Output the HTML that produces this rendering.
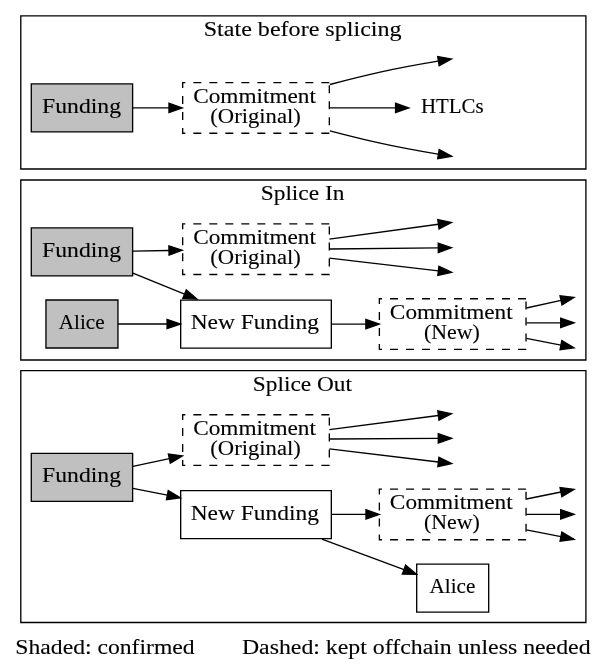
<!DOCTYPE html>
<html><head><meta charset="utf-8"><style>
html,body{margin:0;padding:0;background:#fff;width:607px;height:669px;overflow:hidden}
svg{display:block;will-change:transform}
text{font-family:"Liberation Serif", serif;text-anchor:middle;fill:#000;white-space:pre}
</style></head><body>
<svg width="607" height="669" viewBox="0 0 607 669">
<rect x="0" y="0" width="607" height="669" fill="#fff"/>
<path d="M585.90,15.80L20.80,15.80L20.80,169.00L585.90,169.00Z" fill="none" stroke="#000" stroke-width="1.3333"/>
<path d="M585.90,180.00L20.80,180.00L20.80,360.00L585.90,360.00Z" fill="none" stroke="#000" stroke-width="1.3333"/>
<path d="M585.90,370.70L20.80,370.70L20.80,622.50L585.90,622.50Z" fill="none" stroke="#000" stroke-width="1.3333"/>
<path d="M132.62,83.90L31.29,83.90L31.29,131.90L132.62,131.90Z" fill="#c0c0c0" stroke="#000" stroke-width="1.3333"/>
<path d="M329.33,82.56L182.67,82.56L182.67,133.24L329.33,133.24Z" fill="none" stroke="#000" stroke-width="1.3333" stroke-dasharray="8,8"/>
<path d="M133.00,107.90L168.97,107.90" fill="none" stroke="#000" stroke-width="1.3333"/>
<polygon points="182.30,107.90 168.97,112.57 168.97,103.23" fill="#000" stroke="#000" stroke-width="1.3333"/>
<path d="M329.60,107.90L395.57,107.90" fill="none" stroke="#000" stroke-width="1.3333"/>
<polygon points="408.90,107.90 395.57,112.57 395.57,103.23" fill="#000" stroke="#000" stroke-width="1.3333"/>
<path d="M329.90,84.50C346.38,80.19 363.81,75.83 380.16,72.17C400.00,67.72 423.16,63.66 438.04,61.19" fill="none" stroke="#000" stroke-width="1.3333"/>
<polygon points="451.60,59.00 439.18,65.74 437.69,56.52" fill="#000" stroke="#000" stroke-width="1.3333"/>
<path d="M329.90,130.80C346.38,135.11 363.81,139.47 380.16,143.13C400.00,147.58 423.16,151.64 438.04,154.11" fill="none" stroke="#000" stroke-width="1.3333"/>
<polygon points="451.60,156.30 437.69,158.78 439.18,149.56" fill="#000" stroke="#000" stroke-width="1.3333"/>
<path d="M132.62,227.90L31.29,227.90L31.29,275.90L132.62,275.90Z" fill="#c0c0c0" stroke="#000" stroke-width="1.3333"/>
<path d="M117.95,300.00L45.95,300.00L45.95,348.00L117.95,348.00Z" fill="#c0c0c0" stroke="#000" stroke-width="1.3333"/>
<path d="M329.33,223.86L182.67,223.86L182.67,274.53L329.33,274.53Z" fill="none" stroke="#000" stroke-width="1.3333" stroke-dasharray="8,8"/>
<path d="M331.33,300.10L180.67,300.10L180.67,348.10L331.33,348.10Z" fill="none" stroke="#000" stroke-width="1.3333"/>
<path d="M526.03,298.77L379.37,298.77L379.37,349.44L526.03,349.44Z" fill="none" stroke="#000" stroke-width="1.3333" stroke-dasharray="8,8"/>
<path d="M132.90,251.20L168.97,250.49" fill="none" stroke="#000" stroke-width="1.3333"/>
<polygon points="182.30,250.23 169.06,255.15 168.88,245.82" fill="#000" stroke="#000" stroke-width="1.3333"/>
<path d="M132.90,273.20L184.54,294.11" fill="none" stroke="#000" stroke-width="1.3333"/>
<polygon points="196.90,299.11 182.79,298.43 186.29,289.78" fill="#000" stroke="#000" stroke-width="1.3333"/>
<path d="M118.00,324.00L167.07,324.00" fill="none" stroke="#000" stroke-width="1.3333"/>
<polygon points="180.40,324.00 167.07,328.67 167.07,319.33" fill="#000" stroke="#000" stroke-width="1.3333"/>
<path d="M329.40,239.10L438.40,224.27" fill="none" stroke="#000" stroke-width="1.3333"/>
<polygon points="451.61,222.48 439.03,228.90 437.77,219.65" fill="#000" stroke="#000" stroke-width="1.3333"/>
<path d="M329.40,249.00L438.27,247.85" fill="none" stroke="#000" stroke-width="1.3333"/>
<polygon points="451.60,247.71 438.32,252.52 438.22,243.19" fill="#000" stroke="#000" stroke-width="1.3333"/>
<path d="M329.40,258.10L438.37,270.81" fill="none" stroke="#000" stroke-width="1.3333"/>
<polygon points="451.61,272.35 437.82,275.44 438.91,266.17" fill="#000" stroke="#000" stroke-width="1.3333"/>
<path d="M331.30,324.10L365.87,324.10" fill="none" stroke="#000" stroke-width="1.3333"/>
<polygon points="379.20,324.10 365.87,328.77 365.87,319.43" fill="#000" stroke="#000" stroke-width="1.3333"/>
<path d="M526.40,308.00L561.01,300.36" fill="none" stroke="#000" stroke-width="1.3333"/>
<polygon points="574.03,297.48 562.02,304.91 560.00,295.80" fill="#000" stroke="#000" stroke-width="1.3333"/>
<path d="M526.40,322.80L560.67,322.80" fill="none" stroke="#000" stroke-width="1.3333"/>
<polygon points="574.00,322.80 560.67,327.47 560.67,318.13" fill="#000" stroke="#000" stroke-width="1.3333"/>
<path d="M526.40,338.40L560.94,345.18" fill="none" stroke="#000" stroke-width="1.3333"/>
<polygon points="574.02,347.75 560.04,349.76 561.84,340.60" fill="#000" stroke="#000" stroke-width="1.3333"/>
<path d="M132.62,453.30L31.29,453.30L31.29,501.30L132.62,501.30Z" fill="#c0c0c0" stroke="#000" stroke-width="1.3333"/>
<path d="M329.33,414.77L182.67,414.77L182.67,465.44L329.33,465.44Z" fill="none" stroke="#000" stroke-width="1.3333" stroke-dasharray="8,8"/>
<path d="M331.33,490.60L180.67,490.60L180.67,538.60L331.33,538.60Z" fill="none" stroke="#000" stroke-width="1.3333"/>
<path d="M526.03,489.06L379.37,489.06L379.37,539.74L526.03,539.74Z" fill="none" stroke="#000" stroke-width="1.3333" stroke-dasharray="8,8"/>
<path d="M488.70,564.20L416.70,564.20L416.70,612.20L488.70,612.20Z" fill="none" stroke="#000" stroke-width="1.3333"/>
<path d="M132.90,466.40L169.34,458.61" fill="none" stroke="#000" stroke-width="1.3333"/>
<polygon points="182.38,455.82 170.32,463.17 168.36,454.05" fill="#000" stroke="#000" stroke-width="1.3333"/>
<path d="M132.90,488.40L167.34,495.18" fill="none" stroke="#000" stroke-width="1.3333"/>
<polygon points="180.42,497.75 166.44,499.75 168.24,490.60" fill="#000" stroke="#000" stroke-width="1.3333"/>
<path d="M329.40,429.65L438.39,415.49" fill="none" stroke="#000" stroke-width="1.3333"/>
<polygon points="451.61,413.77 438.99,420.11 437.79,410.86" fill="#000" stroke="#000" stroke-width="1.3333"/>
<path d="M329.40,439.00L438.27,438.38" fill="none" stroke="#000" stroke-width="1.3333"/>
<polygon points="451.60,438.31 438.29,443.05 438.24,433.72" fill="#000" stroke="#000" stroke-width="1.3333"/>
<path d="M329.40,448.90L438.37,462.00" fill="none" stroke="#000" stroke-width="1.3333"/>
<polygon points="451.61,463.59 437.81,466.64 438.93,457.37" fill="#000" stroke="#000" stroke-width="1.3333"/>
<path d="M331.30,514.40L365.97,514.40" fill="none" stroke="#000" stroke-width="1.3333"/>
<polygon points="379.30,514.40 365.97,519.07 365.97,509.73" fill="#000" stroke="#000" stroke-width="1.3333"/>
<path d="M321.90,539.10L403.98,569.60" fill="none" stroke="#000" stroke-width="1.3333"/>
<polygon points="416.48,574.25 402.36,573.98 405.61,565.23" fill="#000" stroke="#000" stroke-width="1.3333"/>
<path d="M526.40,499.00L560.96,492.00" fill="none" stroke="#000" stroke-width="1.3333"/>
<polygon points="574.03,489.36 561.88,496.58 560.03,487.43" fill="#000" stroke="#000" stroke-width="1.3333"/>
<path d="M526.40,514.30L560.67,514.30" fill="none" stroke="#000" stroke-width="1.3333"/>
<polygon points="574.00,514.30 560.67,518.97 560.67,509.63" fill="#000" stroke="#000" stroke-width="1.3333"/>
<path d="M526.40,529.90L560.94,536.68" fill="none" stroke="#000" stroke-width="1.3333"/>
<polygon points="574.02,539.25 560.04,541.26 561.84,532.10" fill="#000" stroke="#000" stroke-width="1.3333"/>
<text x="302.65" y="36.07" font-size="21.2" textLength="197.87" lengthAdjust="spacingAndGlyphs" stroke="#000" stroke-width="0.12">State before splicing</text>
<text x="302.55" y="200.27" font-size="21.2" textLength="83.66" lengthAdjust="spacingAndGlyphs" stroke="#000" stroke-width="0.12">Splice In</text>
<text x="302.45" y="390.97" font-size="21.2" textLength="99.13" lengthAdjust="spacingAndGlyphs" stroke="#000" stroke-width="0.12">Splice Out</text>
<text x="81.55" y="112.83" font-size="21.2" textLength="78.92" lengthAdjust="spacingAndGlyphs" stroke="#000" stroke-width="0.12">Funding</text>
<text x="254.57" y="102.83" font-size="21.2" textLength="122.81" lengthAdjust="spacingAndGlyphs" stroke="#000" stroke-width="0.12">Commitment</text>
<text x="255.55" y="122.83" font-size="21.2" textLength="90.43" lengthAdjust="spacingAndGlyphs" stroke="#000" stroke-width="0.12">(Original)</text>
<text x="452.30" y="112.83" font-size="21.2" textLength="62.61" lengthAdjust="spacingAndGlyphs" stroke="#000" stroke-width="0.12">HTLCs</text>
<text x="81.55" y="256.83" font-size="21.2" textLength="78.92" lengthAdjust="spacingAndGlyphs" stroke="#000" stroke-width="0.12">Funding</text>
<text x="81.70" y="328.93" font-size="21.2" textLength="45.85" lengthAdjust="spacingAndGlyphs" stroke="#000" stroke-width="0.12">Alice</text>
<text x="254.57" y="244.13" font-size="21.2" textLength="122.81" lengthAdjust="spacingAndGlyphs" stroke="#000" stroke-width="0.12">Commitment</text>
<text x="255.55" y="264.13" font-size="21.2" textLength="90.43" lengthAdjust="spacingAndGlyphs" stroke="#000" stroke-width="0.12">(Original)</text>
<text x="254.80" y="329.03" font-size="21.2" textLength="128.21" lengthAdjust="spacingAndGlyphs" stroke="#000" stroke-width="0.12">New Funding</text>
<text x="451.27" y="319.03" font-size="21.2" textLength="122.81" lengthAdjust="spacingAndGlyphs" stroke="#000" stroke-width="0.12">Commitment</text>
<text x="451.90" y="339.03" font-size="21.2" textLength="55.85" lengthAdjust="spacingAndGlyphs" stroke="#000" stroke-width="0.12">(New)</text>
<text x="81.55" y="482.23" font-size="21.2" textLength="78.92" lengthAdjust="spacingAndGlyphs" stroke="#000" stroke-width="0.12">Funding</text>
<text x="254.57" y="435.03" font-size="21.2" textLength="122.81" lengthAdjust="spacingAndGlyphs" stroke="#000" stroke-width="0.12">Commitment</text>
<text x="255.55" y="455.03" font-size="21.2" textLength="90.43" lengthAdjust="spacingAndGlyphs" stroke="#000" stroke-width="0.12">(Original)</text>
<text x="254.80" y="519.53" font-size="21.2" textLength="128.21" lengthAdjust="spacingAndGlyphs" stroke="#000" stroke-width="0.12">New Funding</text>
<text x="451.27" y="509.33" font-size="21.2" textLength="122.81" lengthAdjust="spacingAndGlyphs" stroke="#000" stroke-width="0.12">Commitment</text>
<text x="451.90" y="529.33" font-size="21.2" textLength="55.85" lengthAdjust="spacingAndGlyphs" stroke="#000" stroke-width="0.12">(New)</text>
<text x="452.45" y="593.13" font-size="21.2" textLength="45.85" lengthAdjust="spacingAndGlyphs" stroke="#000" stroke-width="0.12">Alice</text>
<text x="105.00" y="653.80" font-size="21.2" textLength="179.29" lengthAdjust="spacingAndGlyphs" stroke="#000" stroke-width="0.12">Shaded: confirmed</text>
<text x="416.25" y="653.80" font-size="21.2" textLength="348.69" lengthAdjust="spacingAndGlyphs" stroke="#000" stroke-width="0.12">Dashed: kept offchain unless needed</text>
</svg>
</body></html>
